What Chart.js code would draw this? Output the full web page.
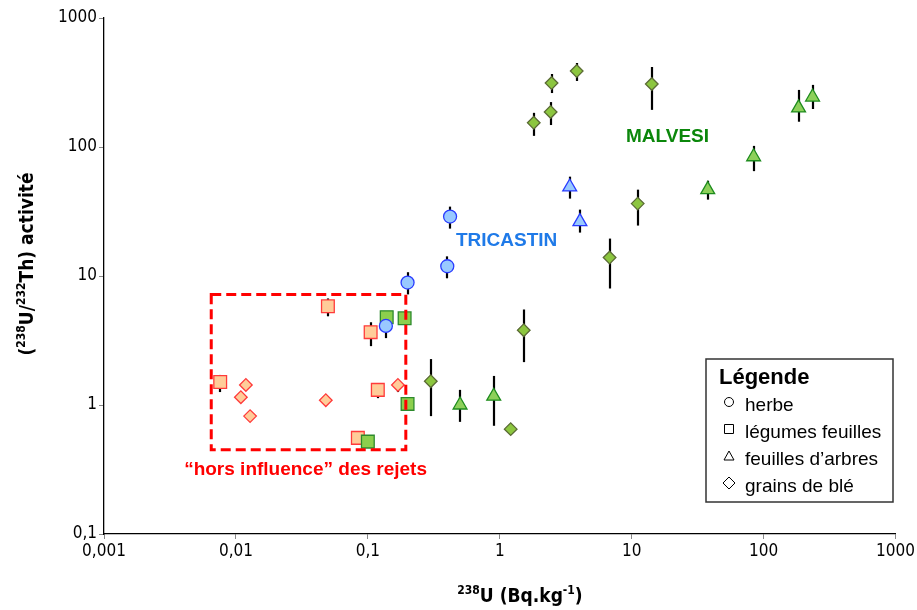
<!DOCTYPE html>
<html lang="fr">
<head>
<meta charset="UTF-8">
<title>238U vs (238U/232Th)</title>
<script src="https://cdn.jsdelivr.net/npm/chart.js"></script>
<style>
body { margin: 0; background: #ffffff; }
#wrap { width: 917px; height: 610px; }
</style>
</head>
<body>
<div id="wrap"><canvas id="chart" width="917" height="610"></canvas></div>
<script>
// axis ticks (powers of ten, French decimal comma)
const xTickValues = [0.001, 0.01, 0.1, 1, 10, 100, 1000];
const xTickLabels = ['0,001', '0,01', '0,1', '1', '10', '100', '1000'];
const yTickValues = [0.1, 1, 10, 100, 1000];
const yTickLabels = ['0,1', '1', '10', '100', '1000'];

// TRICASTIN - herbe
const tricHerbeX = [0.137, 0.20, 0.40, 0.42];
const tricHerbeY = [4.1, 8.9, 11.9, 28.9];
const tricHerbeLo = [3.3, 7.2, 9.6, 23.3];
const tricHerbeHi = [4.5, 10.7, 14.2, 34.5];

// TRICASTIN - feuilles d'arbres
const tricArbreX = [3.39, 4.05];
const tricArbreY = [49, 26.4];
const tricArbreLo = [39.8, 21.7];
const tricArbreHi = [58.9, 32.7];

// MALVESI - legumes feuilles
const malvLegX = [0.10, 0.139, 0.19, 0.20];
const malvLegY = [0.52, 4.79, 4.7, 1.02];

// MALVESI - feuilles d'arbres
const malvArbreX = [0.50, 0.90, 37.7, 84, 184, 235];
const malvArbreY = [1.0, 1.17, 46.7, 84, 201, 244];
const malvArbreLo = [0.74, 0.69, 39.1, 65, 157, 197];
const malvArbreHi = [1.31, 1.68, 54.8, 102, 277, 303];

// MALVESI - grains de ble
const malvBleX = [0.30, 1.21, 1.52, 1.81, 2.43, 2.47, 3.83, 6.8, 11.1, 14.2];
const malvBleY = [1.53, 0.65, 3.8, 154, 187, 313, 388, 13.9, 36.4, 308];
const malvBleLo = [0.82, null, 2.15, 122, 148, 262, 325, 8.0, 24.6, 194];
const malvBleHi = [2.27, null, 5.5, 184, 223, 368, 448, 19.5, 46.7, 417];

// hors influence - legumes feuilles
const horsLegX = [0.0076, 0.0498, 0.084, 0.105, 0.119];
const horsLegY = [1.51, 5.82, 0.556, 3.67, 1.31];
const horsLegLo = [1.26, 4.87, null, 2.86, 1.13];
const horsLegHi = [1.71, 6.7, null, 4.38, 1.48];

// hors influence - grains de ble
const horsBleX = [0.0109, 0.0119, 0.0128, 0.048, 0.169];
const horsBleY = [1.15, 1.43, 0.82, 1.09, 1.43];
const horsBleLo = [null, null, null, null, 1.26];
const horsBleHi = [null, null, null, null, 1.43];

// "hors influence" zone, in data units
const zoneX = [0.0065, 0.194];
const zoneY = [0.45, 7.2];

const legendLabels = ['herbe', 'légumes feuilles', 'feuilles d\u2019arbres', 'grains de blé'];

const condensed = '"DejaVu Sans Condensed", "DejaVu Sans", sans-serif';
const arial = '"Liberation Sans", Arial, sans-serif';

function pts(xs, ys, lo, hi) {
  return xs.map((v, i) => ({ x: v, y: ys[i], lo: lo ? lo[i] : null, hi: hi ? hi[i] : null }));
}

function serie(label, data, style, radius, fill, border) {
  return {
    label: label,
    data: data,
    pointStyle: style,
    pointRadius: radius,
    pointHoverRadius: radius,
    backgroundColor: fill,
    borderColor: border,
    pointBorderWidth: 1.3,
    showLine: false
  };
}

// draws a mix of normal and superscript pieces, centred on x
function drawRich(ctx, parts, x, y, size) {
  const fontN = 'bold ' + size + 'px ' + condensed;
  const fontS = 'bold ' + Math.round(size * 0.65) + 'px ' + condensed;
  let total = 0;
  parts.forEach(p => { ctx.font = p.sup ? fontS : fontN; total += ctx.measureText(p.t).width; });
  let cx = x - total / 2;
  ctx.textAlign = 'left';
  ctx.textBaseline = 'alphabetic';
  parts.forEach(p => {
    ctx.font = p.sup ? fontS : fontN;
    ctx.fillText(p.t, cx, p.sup ? y - size * 0.4 : y);
    cx += ctx.measureText(p.t).width;
  });
}

function legendSymbol(ctx, kind, x, y) {
  ctx.beginPath();
  if (kind === 'circle') {
    ctx.arc(x, y, 4.5, 0, Math.PI * 2);
  } else if (kind === 'rect') {
    ctx.rect(x - 4.5, y - 4.5, 9, 9);
  } else if (kind === 'triangle') {
    ctx.moveTo(x, y - 5); ctx.lineTo(x + 5, y + 4); ctx.lineTo(x - 5, y + 4); ctx.closePath();
  } else {
    ctx.moveTo(x, y - 6); ctx.lineTo(x + 6, y); ctx.lineTo(x, y + 6); ctx.lineTo(x - 6, y); ctx.closePath();
  }
  ctx.stroke();
}

const extras = {
  id: 'extras',
  beforeDatasetsDraw(chart) {
    const { ctx, scales: { x, y } } = chart;
    ctx.save();
    ctx.strokeStyle = '#000';
    ctx.lineWidth = 2.2;
    chart.data.datasets.forEach(ds => {
      ds.data.forEach(p => {
        if (p.lo == null) return;
        const px = Math.round(x.getPixelForValue(p.x));
        ctx.beginPath();
        ctx.moveTo(px, y.getPixelForValue(p.lo));
        ctx.lineTo(px, y.getPixelForValue(p.hi));
        ctx.stroke();
      });
    });
    ctx.restore();
  },
  afterDatasetsDraw(chart) {
    const { ctx, scales: { x, y } } = chart;
    const x0 = x.getPixelForValue(zoneX[0]), x1 = x.getPixelForValue(zoneX[1]);
    const y0 = y.getPixelForValue(zoneY[1]), y1 = y.getPixelForValue(zoneY[0]);
    ctx.save();
    ctx.strokeStyle = '#ff0000';
    ctx.lineWidth = 3;
    ctx.setLineDash([10, 5]);
    ctx.strokeRect(x0, y0, x1 - x0, y1 - y0);
    ctx.restore();
  },
  afterDraw(chart) {
    const ctx = chart.ctx;
    ctx.save();
    // site labels
    ctx.textBaseline = 'middle';
    ctx.textAlign = 'left';
    ctx.font = 'bold 19px ' + arial;
    ctx.fillStyle = '#1f7ae8';
    ctx.fillText('TRICASTIN', 456, 241);
    ctx.fillStyle = '#0b870b';
    ctx.fillText('MALVESI', 626, 137);
    ctx.fillStyle = '#ff0000';
    ctx.font = 'bold 19px ' + arial;
    ctx.textAlign = 'right';
    ctx.fillText('\u201chors influence\u201d des rejets', 427, 470);

    // legend box
    ctx.strokeStyle = '#333';
    ctx.lineWidth = 1.5;
    ctx.strokeRect(706, 359, 187, 143);
    ctx.fillStyle = '#000';
    ctx.textAlign = 'left';
    ctx.font = 'bold 22px ' + arial;
    ctx.fillText('Légende', 719, 378);
    ctx.font = '19px ' + arial;
    const kinds = ['circle', 'rect', 'triangle', 'rectRot'];
    ctx.lineWidth = 1;
    ctx.strokeStyle = '#000';
    legendLabels.forEach((t, i) => {
      const ry = 405 + i * 27;
      legendSymbol(ctx, kinds[i], 729, ry - 3);
      ctx.fillText(t, 745, ry + 1);
    });

    // axis titles
    ctx.fillStyle = '#000';
    drawRich(ctx, [{ t: '238', sup: true }, { t: 'U (Bq.kg', sup: false }, { t: '-1', sup: true }, { t: ')', sup: false }], 520, 602, 19);
    ctx.translate(33, 264);
    ctx.rotate(-Math.PI / 2);
    drawRich(ctx, [{ t: '(', sup: false }, { t: '238', sup: true }, { t: 'U/', sup: false }, { t: '232', sup: true }, { t: 'Th) activité', sup: false }], 0, 0, 19);
    ctx.restore();
  }
};

const ctx = document.getElementById('chart').getContext('2d');

new Chart(ctx, {
  type: 'scatter',
  data: {
    datasets: [
      serie('Tricastin herbe', pts(tricHerbeX, tricHerbeY, tricHerbeLo, tricHerbeHi), 'circle', 6.5, '#99c9ff', '#2a3cff'),
      serie('Tricastin feuilles d\u2019arbres', pts(tricArbreX, tricArbreY, tricArbreLo, tricArbreHi), 'triangle', 8, '#99c9ff', '#2a3cff'),
      serie('Malvesi légumes feuilles', pts(malvLegX, malvLegY), 'rect', 9, '#8ccf4d', '#2d8a2d'),
      serie('Malvesi feuilles d\u2019arbres', pts(malvArbreX, malvArbreY, malvArbreLo, malvArbreHi), 'triangle', 8, '#8dd05a', '#1e8c1e'),
      serie('Malvesi grains de blé', pts(malvBleX, malvBleY, malvBleLo, malvBleHi), 'rectRot', 6.3, '#8cc63f', '#5b6b35'),
      serie('Hors influence légumes feuilles', pts(horsLegX, horsLegY, horsLegLo, horsLegHi), 'rect', 9, '#ffcc99', '#ff3b3b'),
      serie('Hors influence grains de blé', pts(horsBleX, horsBleY, horsBleLo, horsBleHi), 'rectRot', 6.3, '#ffcc99', '#ff3b3b')
    ]
  },
  options: {
    responsive: false,
    animation: false,
    events: [],
    layout: { padding: { top: 18, right: 21, left: 0, bottom: 0 } },
    plugins: {
      legend: { display: false },
      tooltip: { enabled: false }
    },
    scales: {
      x: {
        type: 'logarithmic',
        min: 0.001,
        max: 1000,
        afterBuildTicks: s => { s.ticks = xTickValues.map(v => ({ value: v })); },
        afterFit: s => { s.height = 76; },
        ticks: {
          autoSkip: false,
          maxRotation: 0,
          padding: 2,
          color: '#000',
          font: { family: condensed, size: 17 },
          callback: v => xTickLabels[xTickValues.indexOf(v)] ?? ''
        },
        grid: { display: true, drawOnChartArea: false, drawTicks: true, tickLength: 5, color: '#888' },
        border: { display: true, color: '#000', width: 1.3 }
      },
      y: {
        type: 'logarithmic',
        min: 0.1,
        max: 1000,
        afterBuildTicks: s => { s.ticks = yTickValues.map(v => ({ value: v })); },
        afterFit: s => { s.width = 104; },
        ticks: {
          autoSkip: false,
          padding: 2,
          color: '#000',
          font: { family: condensed, size: 17 },
          callback: v => yTickLabels[yTickValues.indexOf(v)] ?? ''
        },
        grid: { display: true, drawOnChartArea: false, drawTicks: true, tickLength: 5, color: '#888' },
        border: { display: true, color: '#000', width: 1.3 }
      }
    }
  },
  plugins: [extras]
});
</script>
</body>
</html>
